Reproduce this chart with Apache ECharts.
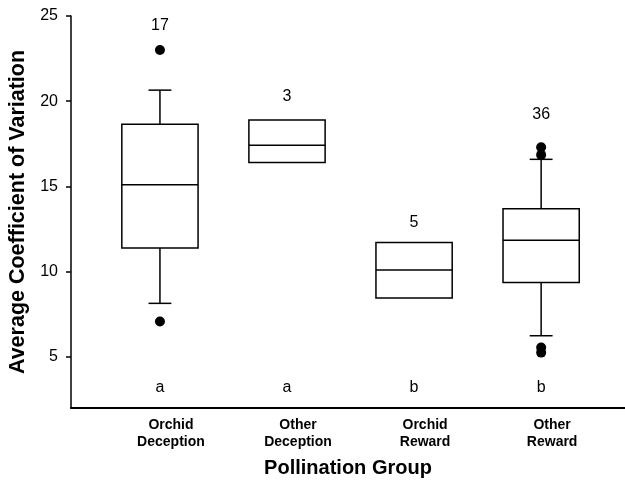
<!DOCTYPE html>
<html><head><meta charset="utf-8">
<script src="https://cdn.jsdelivr.net/npm/echarts@6/dist/echarts.min.js"></script>
<style>html,body{margin:0;padding:0;background:#fff}#c{width:625px;height:486px}</style>
</head><body><div id="c"></div>
<script>
const categories = ['Orchid\nDeception', 'Other\nDeception', 'Orchid\nReward', 'Other\nReward'];
// [lower whisker, Q1, median, Q3, upper whisker] (null = none drawn)
const lowerWhisker = [8.14, null, null, 6.24];
const q1 = [11.39, 16.41, 8.45, 9.37];
const median = [15.1, 17.41, 10.1, 11.84];
const q3 = [18.65, 18.9, 11.71, 13.69];
const upperWhisker = [20.65, null, null, 16.59];
const outliers = [[1, 23.0], [1, 7.08], [4, 17.3], [4, 16.85], [4, 5.55], [4, 5.25]];
const sampleSizes = ['17', '3', '5', '36'];
const sampleSizeAt = [24.45, 20.25, 12.9, 19.2];
const groupLetters = ['a', 'a', 'b', 'b'];
const letterAt = 3.18;
const yTicks = [5, 10, 15, 20, 25];

const FONT = '"Liberation Sans", Arial, sans-serif';
const boxData = categories.map((c, i) => [i + 1, lowerWhisker[i], q1[i], median[i], q3[i], upperWhisker[i]]);

const chart = echarts.init(document.getElementById('c'), null, {renderer: 'canvas'});
chart.setOption({
  animation: false,
  backgroundColor: '#fff',
  grid: {left: 71, right: 0, top: 16, bottom: 78, containLabel: false, outerBoundsMode: 'none'},
  xAxis: {
    type: 'value', min: 0.3, max: 4.66,
    name: 'Pollination Group', nameLocation: 'middle', nameGap: 50,
    nameTextStyle: {fontFamily: FONT, fontWeight: 'bold', fontSize: 20, color: '#000'},
    axisLine: {show: true, onZero: false, lineStyle: {color: '#000', width: 2}},
    axisTick: {show: false},
    splitLine: {show: false},
    axisLabel: {
      customValues: [1, 2, 3, 4],
      formatter: v => categories[Math.round(v) - 1],
      fontFamily: FONT, fontWeight: 'bold', fontSize: 14, color: '#000',
      lineHeight: 17, margin: 9, padding: [0, 0, 0, 22]
    }
  },
  yAxis: {
    type: 'value', min: 2, max: 25,
    name: 'Average Coefficient of Variation', nameLocation: 'middle', nameGap: 36, nameRotate: 90,
    nameTextStyle: {fontFamily: FONT, fontWeight: 'bold', fontSize: 21.5, color: '#000'},
    axisLine: {show: true, lineStyle: {color: '#000', width: 1.5}},
    axisTick: {show: true, customValues: yTicks, length: 5, lineStyle: {color: '#000', width: 1.5}},
    splitLine: {show: false},
    axisLabel: {customValues: yTicks, fontFamily: FONT, fontSize: 16, color: '#000', margin: 13}
  },
  series: [
    {
      type: 'custom',
      data: boxData,
      renderItem: function (params, api) {
        const x = api.value(0);
        const lw = api.value(1), a = api.value(2), m = api.value(3), b = api.value(4), uw = api.value(5);
        const half = api.size([0.6, 0])[0] / 2;
        const capHalf = api.size([0.18, 0])[0] / 2;
        const cx = api.coord([x, m])[0];
        const yq1 = api.coord([x, a])[1], ym = api.coord([x, m])[1], yq3 = api.coord([x, b])[1];
        const st = {stroke: '#000', lineWidth: 1.5, fill: null};
        const children = [
          {type: 'rect', shape: {x: cx - half, y: yq3, width: 2 * half, height: yq1 - yq3}, style: {stroke: '#000', lineWidth: 1.5, fill: '#fff'}},
          {type: 'line', shape: {x1: cx - half, y1: ym, x2: cx + half, y2: ym}, style: st}
        ];
        if (!isNaN(uw)) {
          const yu = api.coord([x, uw])[1];
          children.push({type: 'line', shape: {x1: cx, y1: yq3, x2: cx, y2: yu}, style: st});
          children.push({type: 'line', shape: {x1: cx - capHalf, y1: yu, x2: cx + capHalf, y2: yu}, style: st});
        }
        if (!isNaN(lw)) {
          const yl = api.coord([x, lw])[1];
          children.push({type: 'line', shape: {x1: cx, y1: yq1, x2: cx, y2: yl}, style: st});
          children.push({type: 'line', shape: {x1: cx - capHalf, y1: yl, x2: cx + capHalf, y2: yl}, style: st});
        }
        return {type: 'group', children: children};
      },
      z: 2
    },
    {
      type: 'scatter', data: outliers, symbol: 'circle', symbolSize: 10,
      itemStyle: {color: '#000', opacity: 1}, z: 3
    },
    {
      type: 'scatter', symbolSize: 0, itemStyle: {opacity: 1},
      data: sampleSizes.map((s, i) => ({value: [i + 1, sampleSizeAt[i]], name: s})),
      label: {show: true, position: 'inside', formatter: p => p.name, fontFamily: FONT, fontSize: 16, color: '#000'}
    },
    {
      type: 'scatter', symbolSize: 0, itemStyle: {opacity: 1},
      data: groupLetters.map((s, i) => ({value: [i + 1, letterAt], name: s})),
      label: {show: true, position: 'inside', formatter: p => p.name, fontFamily: FONT, fontSize: 16, color: '#000'}
    }
  ]
});
</script>
</body></html>
